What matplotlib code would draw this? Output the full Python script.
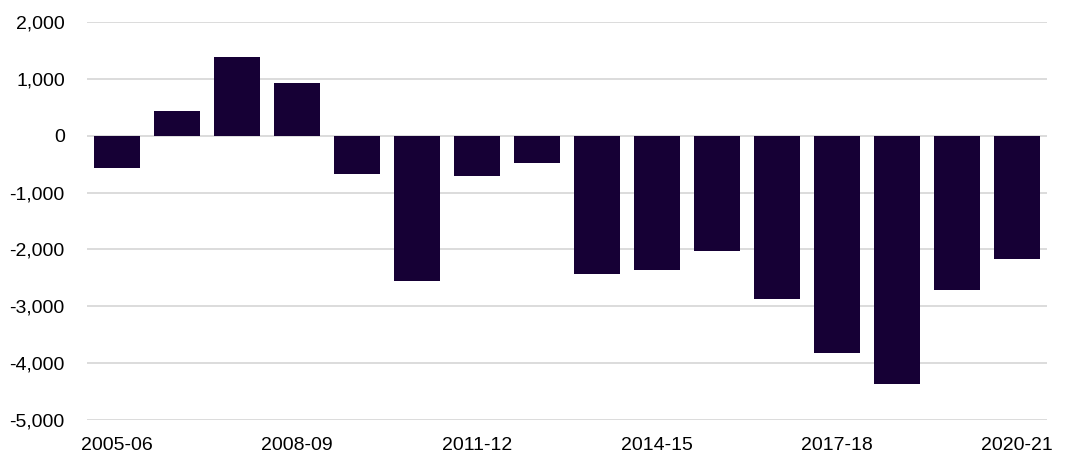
import matplotlib
matplotlib.use('Agg')
import matplotlib.pyplot as plt
from matplotlib.ticker import FuncFormatter

plt.rcParams['font.family'] = ['Liberation Sans', 'DejaVu Sans']

# financial years and yearly balance
years = ['2005-06', '2006-07', '2007-08', '2008-09', '2009-10', '2010-11',
         '2011-12', '2012-13', '2013-14', '2014-15', '2015-16', '2016-17',
         '2017-18', '2018-19', '2019-20', '2020-21']
values = [-560, 440, 1390, 930, -670, -2560, -700, -475, -2425, -2355,
          -2020, -2865, -3830, -4375, -2705, -2160]
shown_labels = ['2005-06', '2008-09', '2011-12', '2014-15', '2017-18', '2020-21']
y_ticks = [2000, 1000, 0, -1000, -2000, -3000, -4000, -5000]

fig = plt.figure(figsize=(10.65, 4.62), dpi=100)
ax = fig.add_axes([87/1065, 1 - 420/462, (1047 - 87)/1065, (420 - 22)/462])

x = range(len(years))
ax.bar(x, values, width=0.77, color='#160035', zorder=3)

ax.set_xlim(-0.5, len(years) - 0.5)
ax.set_ylim(-5000, 2000)
ax.set_yticks(y_ticks)
ax.yaxis.set_major_formatter(FuncFormatter(lambda v, p: f'{int(v):,}'))
ax.set_xticks([i for i, y in enumerate(years) if y in shown_labels])
ax.set_xticklabels(shown_labels)

ax.grid(axis='y', color='#d9d9d9', linewidth=1.3, zorder=0)
for s in ax.spines.values():
    s.set_visible(False)
ax.tick_params(axis='both', length=0, labelsize=14, colors='black')
ax.tick_params(axis='y', pad=16)
ax.tick_params(axis='x', pad=12)

fig.savefig('out.png', dpi=100)
